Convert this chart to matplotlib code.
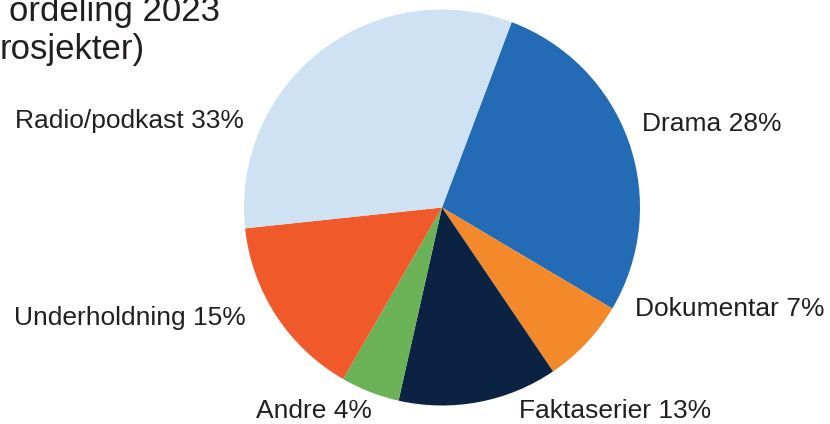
import matplotlib.pyplot as plt

# data
genres = ['Drama', 'Dokumentar', 'Faktaserier', 'Andre', 'Underholdning', 'Radio/podkast']
shares = [27.8, 7.0, 13.0, 4.8, 15.0, 32.4]      # slice sizes (angles measured)
pct_labels = [28, 7, 13, 4, 15, 33]              # percentages as printed
colors = ['#236bb5', '#f3892a', '#0b2242', '#6bb156', '#f05a2b', '#cfe2f4']

title_lines = ['ordeling 2023', 'rosjekter)']    # visible part of the title

plt.rcParams['font.family'] = ['Liberation Sans', 'DejaVu Sans']

W, H = 830, 424
fig = plt.figure(figsize=(W / 100, H / 100), dpi=100)
ax = fig.add_axes([0, 0, 1, 1])

# axes in pixel units (y up), pie centre at pixel (442, 207.5)
ax.pie(shares, colors=colors, startangle=69.4, counterclock=False,
       center=(442, H - 207.5), radius=198,
       wedgeprops=dict(linewidth=0))
ax.set_xlim(0, W)
ax.set_ylim(0, H)
ax.set_aspect('equal')
ax.axis('off')

# label positions (x, y from top, ha) in pixels
label_pos = [(642, 124, 'left'), (635, 309, 'left'), (519, 411, 'left'),
             (372, 411, 'right'), (246, 318, 'right'), (244, 121, 'right')]
for g, p, (x, y, ha) in zip(genres, pct_labels, label_pos):
    ax.text(x, H - y, f'{g} {p}%', ha=ha, va='center', fontsize=19, color='#231f20')

fig.text(220 / W, 1 - 21 / H, title_lines[0], ha='right', va='baseline',
         fontsize=25, color='#231f20')
fig.text(145 / W, 1 - 59 / H, title_lines[1], ha='right', va='baseline',
         fontsize=25, color='#231f20')

fig.savefig('out.png', dpi=100)
